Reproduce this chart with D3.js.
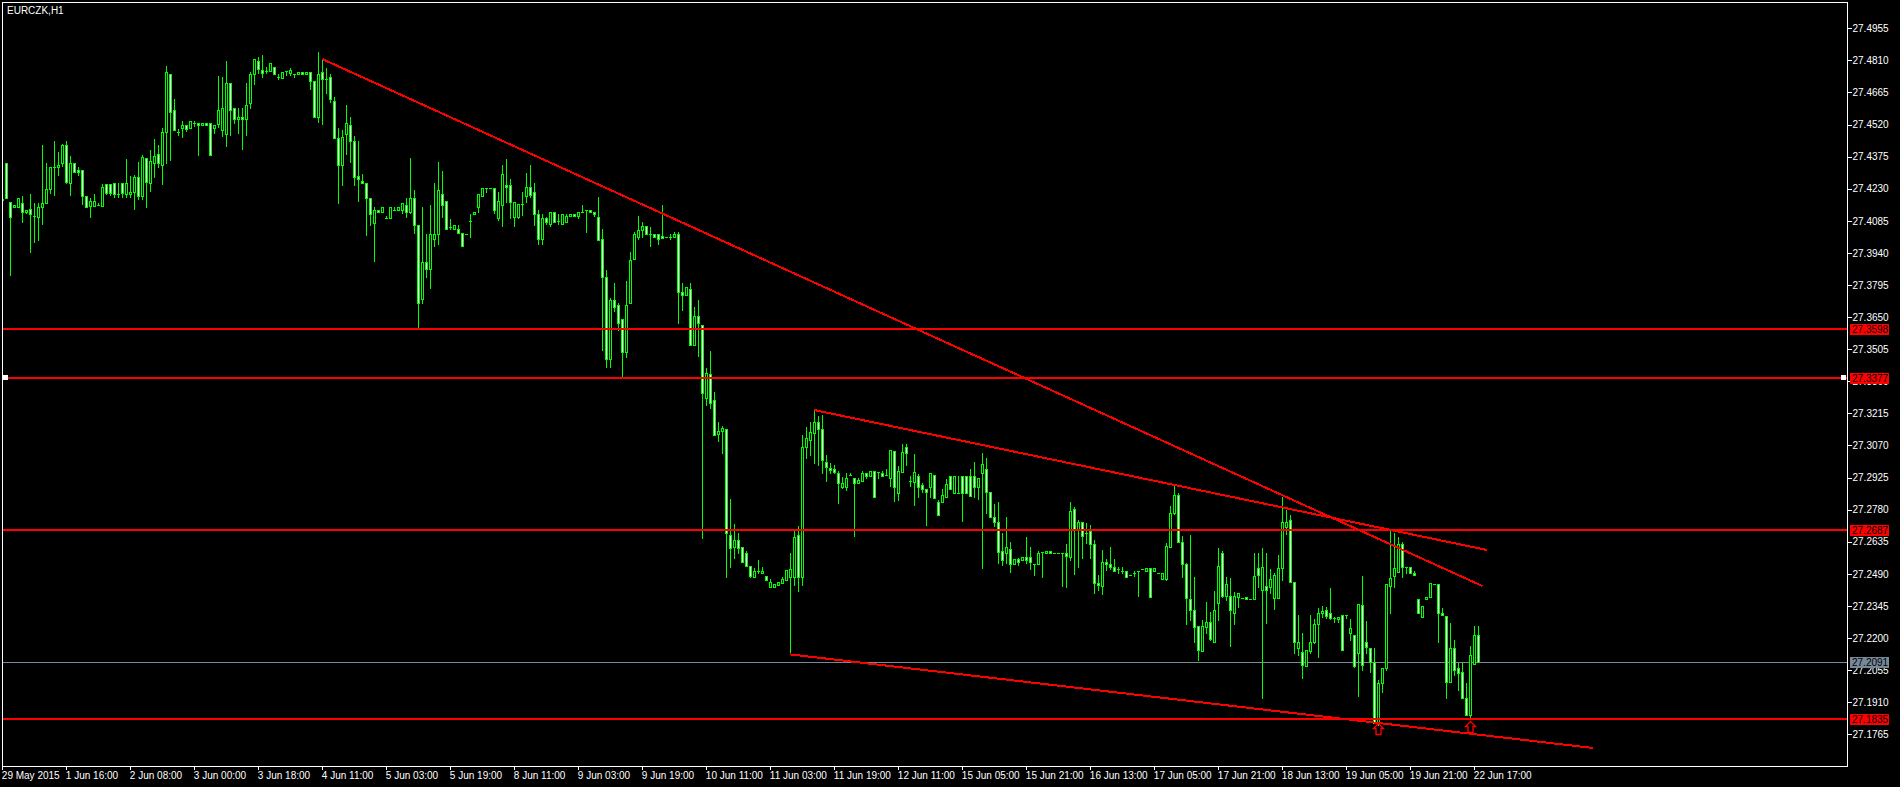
<!DOCTYPE html>
<html><head><meta charset="utf-8">
<script src="https://cdnjs.cloudflare.com/ajax/libs/d3/7.8.5/d3.min.js"></script>
<style>html,body{margin:0;padding:0;background:#000;overflow:hidden}</style>
</head><body><svg id="c" width="1900" height="787"></svg>
<script>
const symbolTitle = "EURCZK,H1";
const timeLabels = ["29 May 2015","1 Jun 16:00","2 Jun 08:00","3 Jun 00:00","3 Jun 18:00","4 Jun 11:00","5 Jun 03:00","5 Jun 19:00","8 Jun 11:00","9 Jun 03:00","9 Jun 19:00","10 Jun 11:00","11 Jun 03:00","11 Jun 19:00","12 Jun 11:00","15 Jun 05:00","15 Jun 21:00","16 Jun 13:00","17 Jun 05:00","17 Jun 21:00","18 Jun 13:00","19 Jun 05:00","19 Jun 21:00","22 Jun 17:00"];
const barsPerTimeLabel = 16;
const priceTicks = [27.4955,27.4810,27.4665,27.4520,27.4375,27.4230,27.4085,27.3940,27.3795,27.3650,27.3505,27.3360,27.3215,27.3070,27.2925,27.2780,27.2635,27.2490,27.2345,27.2200,27.2055,27.1910,27.1765];
// [open, high, low, close] per hourly bar
const ohlc = [
[27.4185,27.4197,27.4164,27.4180],[27.4345,27.4345,27.4187,27.4187],[27.4172,27.4172,27.3840,27.4104],[27.4146,27.4155,27.4146,27.4155],
[27.4146,27.4187,27.4146,27.4187],[27.4164,27.4197,27.4081,27.4123],[27.4123,27.4132,27.4122,27.4132],[27.4137,27.4206,27.3946,27.4114],
[27.4107,27.4164,27.3991,27.4107],[27.4104,27.4164,27.3998,27.4146],[27.4146,27.4426,27.4072,27.4164],[27.4164,27.4345,27.4164,27.4227],
[27.4227,27.4327,27.4212,27.4327],[27.4327,27.4444,27.4203,27.4327],[27.4328,27.4396,27.4294,27.4337],[27.4345,27.4431,27.4334,27.4426],
[27.4426,27.4444,27.4254,27.4262],[27.4254,27.4378,27.4202,27.4345],[27.4345,27.4345,27.4304,27.4304],[27.4313,27.4327,27.4294,27.4304],
[27.4313,27.4313,27.4163,27.4196],[27.4196,27.4196,27.4146,27.4146],[27.4154,27.4187,27.4104,27.4173],[27.4154,27.4206,27.4154,27.4173],
[27.4155,27.4164,27.4155,27.4155],[27.4154,27.4250,27.4154,27.4236],[27.4250,27.4250,27.4206,27.4212],[27.4250,27.4250,27.4203,27.4212],
[27.4254,27.4254,27.4194,27.4205],[27.4206,27.4254,27.4194,27.4206],[27.4254,27.4254,27.4194,27.4212],[27.4205,27.4364,27.4194,27.4254],
[27.4205,27.4288,27.4194,27.4214],[27.4214,27.4292,27.4140,27.4282],[27.4282,27.4351,27.4185,27.4196],[27.4199,27.4382,27.4185,27.4373],
[27.4367,27.4367,27.4146,27.4262],[27.4257,27.4405,27.4221,27.4354],[27.4348,27.4455,27.4285,27.4378],[27.4385,27.4426,27.4327,27.4345],
[27.4336,27.4503,27.4253,27.4485],[27.4485,27.4785,27.4345,27.4756],[27.4747,27.4747,27.4360,27.4575],[27.4584,27.4634,27.4494,27.4494],
[27.4485,27.4498,27.4474,27.4485],[27.4503,27.4536,27.4465,27.4516],[27.4516,27.4516,27.4492,27.4498],[27.4503,27.4535,27.4503,27.4535],
[27.4525,27.4535,27.4513,27.4525],[27.4525,27.4525,27.4384,27.4516],[27.4516,27.4525,27.4516,27.4525],[27.4525,27.4525,27.4516,27.4516],
[27.4525,27.4525,27.4381,27.4381],[27.4503,27.4516,27.4483,27.4516],[27.4521,27.4739,27.4507,27.4586],[27.4494,27.4735,27.4470,27.4593],
[27.4476,27.4806,27.4423,27.4706],[27.4706,27.4706,27.4471,27.4584],[27.4593,27.4593,27.4525,27.4544],[27.4544,27.4593,27.4483,27.4553],
[27.4553,27.4593,27.4411,27.4544],[27.4544,27.4707,27.4474,27.4607],[27.4616,27.4757,27.4593,27.4748],[27.4748,27.4815,27.4703,27.4815],
[27.4806,27.4827,27.4751,27.4772],[27.4766,27.4834,27.4733,27.4754],[27.4763,27.4782,27.4751,27.4763],[27.4763,27.4797,27.4763,27.4797],
[27.4782,27.4782,27.4747,27.4747],[27.4733,27.4748,27.4724,27.4733],[27.4732,27.4756,27.4732,27.4756],[27.4763,27.4763,27.4745,27.4763],
[27.4754,27.4775,27.4745,27.4766],[27.4747,27.4747,27.4733,27.4747],[27.4747,27.4756,27.4747,27.4756],[27.4756,27.4756,27.4747,27.4747],
[27.4747,27.4756,27.4747,27.4756],[27.4756,27.4756,27.4682,27.4715],[27.4715,27.4715,27.4553,27.4553],[27.4553,27.4846,27.4533,27.4748],
[27.4756,27.4815,27.4521,27.4724],[27.4724,27.4775,27.4664,27.4724],[27.4733,27.4748,27.4623,27.4634],[27.4625,27.4643,27.4458,27.4458],
[27.4458,27.4504,27.4164,27.4336],[27.4336,27.4494,27.4245,27.4465],[27.4476,27.4608,27.4385,27.4525],[27.4516,27.4553,27.4352,27.4444],
[27.4444,27.4468,27.4245,27.4285],[27.4286,27.4444,27.4173,27.4274],[27.4263,27.4295,27.4254,27.4254],[27.4254,27.4254,27.4019,27.4187],
[27.4187,27.4187,27.4066,27.4114],[27.4074,27.4146,27.3905,27.4132],[27.4132,27.4132,27.4123,27.4123],[27.4123,27.4146,27.4123,27.4146],
[27.4096,27.4105,27.4096,27.4096],[27.4096,27.4146,27.4096,27.4146],[27.4132,27.4146,27.4132,27.4132],[27.4132,27.4146,27.4132,27.4146],
[27.4132,27.4164,27.4119,27.4164],[27.4155,27.4187,27.4104,27.4123],[27.4126,27.4369,27.4119,27.4187],[27.4187,27.4224,27.4031,27.4065],
[27.4065,27.4065,27.3607,27.3712],[27.3730,27.4146,27.3712,27.3899],[27.3899,27.4025,27.3833,27.3869],[27.3869,27.4157,27.3783,27.4024],
[27.4004,27.4254,27.3973,27.4024],[27.4024,27.4351,27.3982,27.4223],[27.4205,27.4310,27.4104,27.4155],[27.4173,27.4173,27.4047,27.4047],
[27.4059,27.4092,27.4047,27.4059],[27.4047,27.4065,27.4047,27.4065],[27.4047,27.4065,27.4031,27.4031],[27.4031,27.4031,27.3973,27.3973],
[27.4024,27.4024,27.4024,27.4024],[27.4083,27.4116,27.4013,27.4083],[27.4114,27.4123,27.4114,27.4123],[27.4146,27.4205,27.4123,27.4205],
[27.4196,27.4232,27.4196,27.4232],[27.4232,27.4232,27.4217,27.4232],[27.4232,27.4232,27.4232,27.4232],[27.4232,27.4232,27.4122,27.4132],
[27.4096,27.4214,27.4087,27.4173],[27.4158,27.4337,27.4063,27.4295],[27.4245,27.4364,27.4169,27.4236],[27.4245,27.4272,27.4099,27.4169],
[27.4101,27.4172,27.4063,27.4169],[27.4104,27.4160,27.4096,27.4160],[27.4163,27.4214,27.4113,27.4163],[27.4196,27.4300,27.4172,27.4236],
[27.4236,27.4336,27.4194,27.4203],[27.4214,27.4254,27.4066,27.4114],[27.4114,27.4132,27.3982,27.4004],[27.4004,27.4114,27.3982,27.4096],
[27.4096,27.4104,27.4072,27.4081],[27.4072,27.4123,27.4063,27.4123],[27.4123,27.4123,27.4081,27.4081],[27.4083,27.4114,27.4072,27.4083],
[27.4072,27.4114,27.4072,27.4114],[27.4081,27.4114,27.4081,27.4105],[27.4105,27.4114,27.4105,27.4114],[27.4114,27.4114,27.4105,27.4105],
[27.4105,27.4123,27.4096,27.4123],[27.4123,27.4157,27.4123,27.4123],[27.4132,27.4132,27.4036,27.4132],[27.4132,27.4132,27.4123,27.4123],
[27.4123,27.4123,27.4105,27.4114],[27.4104,27.4191,27.3997,27.3997],[27.4004,27.4047,27.3501,27.3830],[27.3830,27.3863,27.3426,27.3459],
[27.3459,27.3735,27.3426,27.3727],[27.3727,27.3803,27.3679,27.3697],[27.3703,27.3712,27.3592,27.3625],[27.3643,27.3643,27.3385,27.3494],
[27.3494,27.3813,27.3471,27.3703],[27.3712,27.3944,27.3712,27.3908],[27.3914,27.4033,27.3914,27.4024],[27.4013,27.4107,27.4001,27.4042],
[27.4042,27.4078,27.4013,27.4060],[27.4060,27.4060,27.4024,27.4024],[27.4024,27.4059,27.3973,27.4024],[27.4024,27.4024,27.4013,27.4013],
[27.4024,27.4024,27.3982,27.4004],[27.4015,27.4157,27.4006,27.4006],[27.4013,27.4013,27.4013,27.4013],[27.4013,27.4024,27.4004,27.4013],
[27.4013,27.4033,27.4013,27.4024],[27.4024,27.4033,27.3625,27.3765],[27.3765,27.3803,27.3682,27.3750],[27.3750,27.3784,27.3750,27.3784],
[27.3775,27.3803,27.3522,27.3522],[27.3522,27.3697,27.3522,27.3655],[27.3655,27.3727,27.3474,27.3625],[27.3614,27.3614,27.2653,27.3306],
[27.3283,27.3418,27.3253,27.3396],[27.3391,27.3497,27.3238,27.3263],[27.3275,27.3310,27.3116,27.3116],[27.3123,27.3174,27.3092,27.3134],
[27.3137,27.3158,27.3037,27.3149],[27.3144,27.3144,27.2474,27.2673],[27.2665,27.2826,27.2522,27.2605],[27.2613,27.2715,27.2563,27.2643],
[27.2643,27.2673,27.2582,27.2605],[27.2613,27.2613,27.2542,27.2542],[27.2582,27.2595,27.2525,27.2525],[27.2525,27.2525,27.2474,27.2482],
[27.2474,27.2515,27.2474,27.2503],[27.2504,27.2552,27.2492,27.2504],[27.2492,27.2519,27.2492,27.2504],[27.2482,27.2482,27.2462,27.2462],
[27.2432,27.2465,27.2432,27.2451],[27.2432,27.2444,27.2432,27.2444],[27.2439,27.2451,27.2439,27.2451],[27.2450,27.2474,27.2450,27.2466],
[27.2462,27.2507,27.2462,27.2507],[27.2477,27.2582,27.2126,27.2510],[27.2474,27.2688,27.2439,27.2655],[27.2665,27.2706,27.2414,27.2474],
[27.2474,27.3117,27.2439,27.3062],[27.3062,27.3155,27.3012,27.3102],[27.3095,27.3177,27.3027,27.3132],[27.3125,27.3230,27.2989,27.3174],
[27.3174,27.3203,27.2982,27.3143],[27.3143,27.3207,27.2944,27.3004],[27.2994,27.3025,27.2911,27.2974],[27.2970,27.2989,27.2944,27.2959],
[27.2962,27.2982,27.2944,27.2952],[27.2944,27.2956,27.2811,27.2899],[27.2884,27.2929,27.2879,27.2899],[27.2884,27.2944,27.2869,27.2921],
[27.2936,27.2944,27.2936,27.2936],[27.2921,27.2921,27.2662,27.2902],[27.2902,27.2921,27.2902,27.2914],[27.2911,27.2955,27.2911,27.2944],
[27.2944,27.2944,27.2921,27.2932],[27.2932,27.2955,27.2932,27.2955],[27.2955,27.2955,27.2836,27.2836],[27.2952,27.2952,27.2921,27.2952],
[27.2944,27.2955,27.2933,27.2933],[27.2936,27.2962,27.2936,27.2936],[27.2921,27.3049,27.2887,27.3049],[27.3046,27.3046,27.2820,27.2884],
[27.2854,27.2977,27.2823,27.2955],[27.2952,27.3077,27.2952,27.3039],[27.3064,27.3077,27.2982,27.3034],[27.2911,27.2933,27.2888,27.2911],
[27.2906,27.3031,27.2801,27.2952],[27.2933,27.2939,27.2839,27.2884],[27.2891,27.2899,27.2861,27.2872],[27.2872,27.2872,27.2711,27.2858],
[27.2884,27.2944,27.2839,27.2944],[27.2936,27.2936,27.2834,27.2834],[27.2813,27.2823,27.2754,27.2754],[27.2813,27.2872,27.2813,27.2846],
[27.2836,27.2917,27.2836,27.2894],[27.2932,27.2932,27.2872,27.2872],[27.2854,27.2932,27.2854,27.2932],[27.2854,27.2932,27.2854,27.2854],
[27.2932,27.2932,27.2730,27.2854],[27.2932,27.2932,27.2854,27.2854],[27.2932,27.2962,27.2843,27.2843],[27.2932,27.2994,27.2839,27.2884],
[27.2884,27.2921,27.2826,27.2921],[27.2944,27.3034,27.2515,27.2985],[27.2962,27.3012,27.2766,27.2861],[27.2861,27.2861,27.2745,27.2745],
[27.2748,27.2806,27.2706,27.2723],[27.2723,27.2813,27.2540,27.2590],[27.2593,27.2673,27.2530,27.2552],[27.2582,27.2745,27.2537,27.2610],
[27.2601,27.2634,27.2500,27.2533],[27.2533,27.2555,27.2533,27.2555],[27.2555,27.2561,27.2530,27.2543],[27.2552,27.2564,27.2552,27.2564],
[27.2564,27.2655,27.2537,27.2552],[27.2564,27.2610,27.2510,27.2542],[27.2533,27.2533,27.2483,27.2533],[27.2533,27.2595,27.2533,27.2582],
[27.2590,27.2590,27.2477,27.2590],[27.2582,27.2592,27.2582,27.2592],[27.2592,27.2592,27.2582,27.2582],[27.2582,27.2582,27.2582,27.2582],
[27.2582,27.2582,27.2582,27.2582],[27.2582,27.2582,27.2435,27.2582],[27.2582,27.2625,27.2432,27.2572],[27.2564,27.2813,27.2552,27.2774],
[27.2781,27.2793,27.2489,27.2688],[27.2692,27.2733,27.2522,27.2723],[27.2723,27.2723,27.2560,27.2662],[27.2676,27.2721,27.2628,27.2676],
[27.2684,27.2711,27.2563,27.2623],[27.2623,27.2643,27.2402,27.2450],[27.2447,27.2485,27.2417,27.2439],[27.2436,27.2598,27.2397,27.2542],
[27.2542,27.2557,27.2507,27.2533],[27.2533,27.2610,27.2510,27.2522],[27.2522,27.2555,27.2503,27.2503],[27.2510,27.2522,27.2492,27.2510],
[27.2503,27.2522,27.2492,27.2503],[27.2503,27.2503,27.2474,27.2474],[27.2485,27.2485,27.2485,27.2485],[27.2495,27.2503,27.2480,27.2495],
[27.2503,27.2503,27.2390,27.2503],[27.2513,27.2513,27.2513,27.2513],[27.2503,27.2516,27.2503,27.2516],[27.2516,27.2516,27.2387,27.2387],
[27.2503,27.2516,27.2503,27.2516],[27.2495,27.2495,27.2495,27.2495],[27.2465,27.2492,27.2465,27.2492],[27.2465,27.2628,27.2462,27.2616],
[27.2613,27.2798,27.2610,27.2766],[27.2763,27.2887,27.2760,27.2846],[27.2846,27.2854,27.2632,27.2632],[27.2632,27.2662,27.2474,27.2533],
[27.2533,27.2537,27.2262,27.2382],[27.2375,27.2665,27.2281,27.2327],[27.2327,27.2477,27.2183,27.2251],[27.2254,27.2254,27.2101,27.2146],
[27.2143,27.2281,27.2143,27.2254],[27.2251,27.2364,27.2221,27.2271],[27.2272,27.2319,27.2191,27.2194],[27.2183,27.2414,27.2180,27.2327],
[27.2360,27.2605,27.2281,27.2525],[27.2582,27.2595,27.2387,27.2391],[27.2391,27.2477,27.2372,27.2444],[27.2391,27.2469,27.2164,27.2327],
[27.2312,27.2409,27.2262,27.2391],[27.2384,27.2405,27.2342,27.2402],[27.2382,27.2382,27.2382,27.2382],[27.2387,27.2387,27.2375,27.2375],
[27.2376,27.2376,27.2376,27.2376],[27.2375,27.2582,27.2375,27.2482],[27.2515,27.2582,27.2432,27.2485],[27.2417,27.2605,27.1927,27.2522],
[27.2435,27.2582,27.2266,27.2417],[27.2432,27.2510,27.2402,27.2465],[27.2382,27.2492,27.2330,27.2485],[27.2382,27.2575,27.2382,27.2515],
[27.2515,27.2839,27.2462,27.2726],[27.2703,27.2778,27.2670,27.2726],[27.2733,27.2756,27.2451,27.2451],[27.2451,27.2451,27.2134,27.2183],
[27.2153,27.2304,27.2123,27.2183],[27.2135,27.2221,27.2018,27.2079],[27.2075,27.2146,27.2075,27.2146],[27.2141,27.2304,27.2131,27.2183],
[27.2183,27.2287,27.2176,27.2263],[27.2262,27.2334,27.2116,27.2312],[27.2312,27.2345,27.2293,27.2324],[27.2327,27.2342,27.2289,27.2299],
[27.2312,27.2424,27.2284,27.2289],[27.2289,27.2296,27.2274,27.2289],[27.2284,27.2296,27.2274,27.2296],[27.2304,27.2304,27.2146,27.2146],
[27.2304,27.2304,27.2290,27.2304],[27.2221,27.2286,27.2191,27.2244],[27.2214,27.2214,27.2070,27.2073],[27.2134,27.2352,27.1939,27.2352],
[27.2348,27.2480,27.2055,27.2079],[27.2183,27.2278,27.2131,27.2161],[27.2153,27.2153,27.2048,27.2093],[27.2093,27.2153,27.1814,27.1814],
[27.1814,27.2010,27.1808,27.1995],[27.1995,27.2063,27.1957,27.2063],[27.2063,27.2444,27.2055,27.2442],[27.2435,27.2688,27.2312,27.2473],
[27.2480,27.2673,27.2432,27.2515],[27.2500,27.2655,27.2497,27.2623],[27.2623,27.2635,27.2477,27.2519],[27.2522,27.2522,27.2495,27.2522],
[27.2522,27.2522,27.2495,27.2495],[27.2495,27.2503,27.2485,27.2485],[27.2375,27.2375,27.2312,27.2312],[27.2293,27.2345,27.2293,27.2345],
[27.2375,27.2387,27.2375,27.2387],[27.2384,27.2450,27.2384,27.2450],[27.2442,27.2442,27.2442,27.2442],[27.2442,27.2442,27.2183,27.2312],
[27.2312,27.2334,27.2302,27.2302],[27.2301,27.2301,27.1930,27.2003],[27.2003,27.2266,27.2003,27.2153],[27.2153,27.2191,27.2033,27.2055],
[27.2063,27.2085,27.1965,27.2040],[27.2045,27.2085,27.1927,27.1927],[27.1927,27.1995,27.1852,27.1852],[27.1852,27.2164,27.1844,27.2123],
[27.2081,27.2254,27.2081,27.2214],[27.2214,27.2254,27.2091,27.2091]
];
const levelPrices = [27.3598, 27.3377, 27.2687, 27.1835];
const selectedLevel = 27.3377;
const bidPrice = 27.2091;
// [barIndex1, price1, barIndex2, price2]
const trendLines = [[80,27.4816,370,27.2435],[203,27.3230,371.1,27.2598],[197,27.2126,397.7,27.1703]];
// [barIndex, price at arrow tip]
const upArrows = [[344,27.1815],[367,27.1826]];

const W=1900,H=787, L=2, T=2, R=1847, B=766;
const GREEN="#00ff00", RED="#ff0000", GREY="#778899";
const FONT="'Liberation Sans', Arial, sans-serif";
const svg=d3.select("#c");
svg.append("rect").attr("width",W).attr("height",H).attr("fill","#000");

const x=d3.scaleLinear().domain([0,ohlc.length-1]).range([2.33,2.33+4*(ohlc.length-1)]);
const y=d3.scaleLinear().domain([priceTicks[0],priceTicks[priceTicks.length-1]]).range([28.3,734.3]);

svg.append("clipPath").attr("id","plot").append("rect").attr("x",L).attr("y",T).attr("width",R-L).attr("height",B-T);
const plot=svg.append("g").attr("clip-path","url(#plot)").attr("shape-rendering","crispEdges");

// bid line
plot.append("line").attr("x1",L).attr("x2",R).attr("y1",Math.round(y(bidPrice))+0.5).attr("y2",Math.round(y(bidPrice))+0.5)
  .attr("stroke",GREY).attr("stroke-width",1);

// candles
const cg=plot.append("g");
ohlc.forEach((d,i)=>{
  const [o,h,l,c]=d;
  const cx=Math.round(x(i));
  const yh=Math.round(y(Math.max(h,o,c))), yl=Math.round(y(Math.min(l,o,c)));
  cg.append("rect").attr("x",cx).attr("y",yh).attr("width",1).attr("height",Math.max(1,yl-yh+1)).attr("fill",GREEN);
  const top=Math.round(y(Math.max(o,c))), bot=Math.round(y(Math.min(o,c)));
  const hh=Math.max(1,bot-top+1);
  cg.append("rect").attr("x",cx-1).attr("y",top).attr("width",3).attr("height",hh).attr("fill",GREEN);
  if(hh>=3){
    cg.append("rect").attr("x",cx).attr("y",top+1).attr("width",1).attr("height",hh-2).attr("fill",c<o?"#ffffff":"#000000");
  }
});

// horizontal levels
levelPrices.forEach(p=>{
  const yy=Math.round(y(p));
  plot.append("rect").attr("x",L).attr("y",yy-1).attr("width",R-L).attr("height",2).attr("fill",RED);
});
// trend lines
trendLines.forEach(t=>{
  plot.append("line").attr("x1",x(t[0])).attr("y1",y(t[1])).attr("x2",x(t[2])).attr("y2",y(t[3]))
    .attr("stroke",RED).attr("stroke-width",2).attr("shape-rendering","crispEdges");
});
// selection handles on selected level
{
  const yy=Math.round(y(selectedLevel));
  [3, R-6].forEach(xx=>{
    plot.append("rect").attr("x",xx).attr("y",yy-3).attr("width",5).attr("height",5).attr("fill","#fff");
  });
}
// arrows
upArrows.forEach(a=>{
  const cx=Math.round(x(a[0]))+0.5, t=Math.round(y(a[1]))+0.5;
  const p=`M${cx},${t} L${cx+5},${t+5} L${cx+2.5},${t+5} L${cx+2.5},${t+11} L${cx-2.5},${t+11} L${cx-2.5},${t+5} L${cx-5},${t+5} Z`;
  svg.append("path").attr("d",p).attr("fill","none").attr("stroke",RED).attr("stroke-width",1.3);
});

// frame
svg.append("rect").attr("x",L+0.5).attr("y",T+0.5).attr("width",R-L).attr("height",B-T)
  .attr("fill","none").attr("stroke","#fff").attr("stroke-width",1).attr("shape-rendering","crispEdges");

// title
svg.append("text").attr("x",7).attr("y",13.5).attr("fill","#fff").attr("font-family",FONT).attr("font-size","10px").text(symbolTitle);

// price axis
const ya=svg.append("g").attr("transform",`translate(${R+0.5},0)`)
  .call(d3.axisRight(y).tickValues(priceTicks).tickSize(4).tickPadding(1).tickFormat(d3.format(".4f")));
ya.select(".domain").remove();
ya.selectAll("line").attr("stroke","#fff").attr("shape-rendering","crispEdges");
ya.selectAll("text").attr("fill","#fff").attr("font-family",FONT).attr("font-size","10px");

// time axis
const tv=d3.range(0,ohlc.length,barsPerTimeLabel);
const xa=svg.append("g").attr("transform",`translate(0,${B})`)
  .call(d3.axisBottom(x).tickValues(tv).tickSize(4).tickPadding(2).tickFormat((d,i)=>timeLabels[i]));
xa.select(".domain").remove();
xa.selectAll("line").attr("stroke","#fff").attr("shape-rendering","crispEdges");
xa.selectAll("text").attr("fill","#fff").attr("font-family",FONT).attr("font-size","10px").attr("text-anchor","start").attr("x",-1);

// price labels for levels
function priceBox(p,fill){
  const yy=Math.round(y(p));
  const g=svg.append("g");
  g.append("rect").attr("x",R+3).attr("y",yy-5).attr("width",39).attr("height",11).attr("fill",fill);
  g.append("text").attr("x",R+5).attr("y",yy).attr("dy","0.36em").attr("fill","#000")
    .attr("font-family",FONT).attr("font-size","10px").text(d3.format(".4f")(p));
}
levelPrices.forEach(p=>priceBox(p,RED));
priceBox(bidPrice,GREY);
</script></body></html>
